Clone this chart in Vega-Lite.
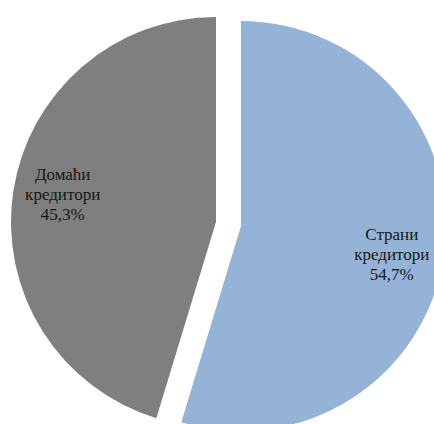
{
  "$schema": "https://vega.github.io/schema/vega-lite/v6.json",
  "width": 457,
  "height": 448,
  "padding": 0,
  "autosize": {"type": "none"},
  "background": "white",
  "config": {"view": {"stroke": null}},
  "data": {
    "values": [
      {"name": "Страни кредитори", "share": 54.7, "label": "Страни\nкредитори\n54,7%"},
      {"name": "Домаћи кредитори", "share": 45.3, "label": "Домаћи\nкредитори\n45,3%"}
    ]
  },
  "encoding": {
    "theta": {"field": "share", "type": "quantitative", "stack": true},
    "order": {"field": "share", "type": "quantitative", "sort": "descending"}
  },
  "layer": [
    {
      "mark": {"type": "arc", "radius": 205, "xOffset": 12.5, "yOffset": 2, "fill": "#95B3D7"},
      "encoding": {
        "opacity": {"condition": {"test": "datum.name === 'Страни кредитори'", "value": 1}, "value": 0}
      }
    },
    {
      "mark": {"type": "arc", "radius": 205, "xOffset": -12.5, "yOffset": -2, "fill": "#7F7F7F"},
      "encoding": {
        "opacity": {"condition": {"test": "datum.name === 'Домаћи кредитори'", "value": 1}, "value": 0}
      }
    },
    {
      "mark": {"type": "text", "radius": 155, "xOffset": 10, "yOffset": 8, "dy": -20, "font": "Liberation Serif", "fontSize": 17, "lineHeight": 20, "lineBreak": "\n", "color": "#161616", "align": "center", "baseline": "middle"},
      "encoding": {
        "text": {"field": "label"},
        "opacity": {"condition": {"test": "datum.name === 'Страни кредитори'", "value": 1}, "value": 0}
      }
    },
    {
      "mark": {"type": "text", "radius": 155, "xOffset": -12.5, "yOffset": -6, "dy": -20, "font": "Liberation Serif", "fontSize": 17, "lineHeight": 20, "lineBreak": "\n", "color": "#161616", "align": "center", "baseline": "middle"},
      "encoding": {
        "text": {"field": "label"},
        "opacity": {"condition": {"test": "datum.name === 'Домаћи кредитори'", "value": 1}, "value": 0}
      }
    }
  ]
}
